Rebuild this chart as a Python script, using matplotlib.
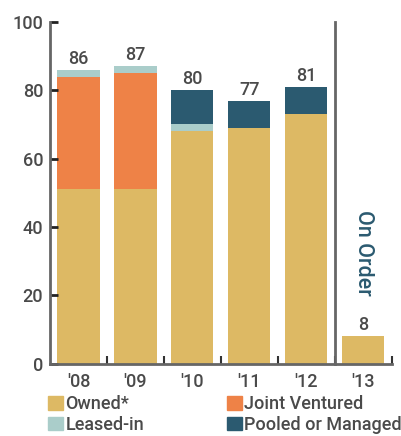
import matplotlib.pyplot as plt
from matplotlib.patches import Patch

plt.rcParams['font.family'] = ['Roboto', 'DejaVu Sans']
plt.rcParams['font.weight'] = 'medium'

years = ["'08", "'09", "'10", "'11", "'12", "'13"]
owned = [51, 51, 68, 69, 73, 8]
joint_ventured = [33, 34, 0, 0, 0, 0]
leased_in = [2, 2, 2, 0, 0, 0]
pooled = [0, 0, 10, 8, 8, 0]

c_owned = '#DDB964'
c_jv = '#EE8247'
c_leased = '#AACDCA'
c_pooled = '#2B5A70'
c_text = '#4a4a4a'

fig = plt.figure(figsize=(4.01, 4.36), dpi=100)
ax = fig.add_axes([0.1247, 0.166, 0.977 - 0.1247, 0.9495 - 0.166])

x = list(range(len(years)))
w = 0.74
b1 = owned
b2 = [o + j for o, j in zip(owned, joint_ventured)]
b3 = [v + l for v, l in zip(b2, leased_in)]
ax.bar(x, owned, w, color=c_owned)
ax.bar(x, joint_ventured, w, bottom=b1, color=c_jv)
ax.bar(x, leased_in, w, bottom=b2, color=c_leased)
ax.bar(x, pooled, w, bottom=b3, color=c_pooled)

totals = [o + j + l + p for o, j, l, p in zip(owned, joint_ventured, leased_in, pooled)]
for xi, t in zip(x, totals):
    ax.annotate(str(t), (xi, t), xytext=(0, 1.5), textcoords='offset points',
                ha='center', va='bottom', fontsize=13, color=c_text)

# divider between actual and on-order
ax.plot([4.5, 4.5], [0, 100], color='#666666', lw=2, clip_on=False)
ax.text(5.0, 32.5, 'On Order', rotation=-90, ha='center', va='center',
        fontsize=15.5, color=c_pooled)

ax.set_xlim(-0.5, 5.5)
ax.set_ylim(0, 100)
ax.set_yticks([0, 20, 40, 60, 80, 100])
ax.set_xticks(x)
ax.set_xticklabels(years)
ax.set_xticks([0.5, 1.5, 2.5, 3.5, 4.5, 5.5], minor=True)
ax.tick_params(axis='x', which='major', length=0, pad=7, labelsize=13, labelcolor=c_text)
ax.tick_params(axis='x', which='minor', direction='in', length=6, width=1.5, color='#333333')
ax.tick_params(axis='y', direction='in', length=6, width=2, color='#222222', pad=5,
               labelsize=13, labelcolor=c_text)

for s in ['top', 'right']:
    ax.spines[s].set_visible(False)
for s in ['left', 'bottom']:
    ax.spines[s].set_color('#666666')
    ax.spines[s].set_linewidth(2)

handles = [Patch(color=c_owned, label='Owned*'),
           Patch(color=c_leased, label='Leased-in'),
           Patch(color=c_jv, label='Joint Ventured'),
           Patch(color=c_pooled, label='Pooled or Managed')]
fig.legend(handles=handles, ncol=2, loc='upper left', bbox_to_anchor=(0.12, 0.094),
           frameon=False, fontsize=13, handlelength=0.8, handleheight=0.8,
           handletextpad=0.15, columnspacing=4.6, labelspacing=0.15,
           borderaxespad=0, borderpad=0, labelcolor=c_text)

fig.savefig('out.png', dpi=100)
